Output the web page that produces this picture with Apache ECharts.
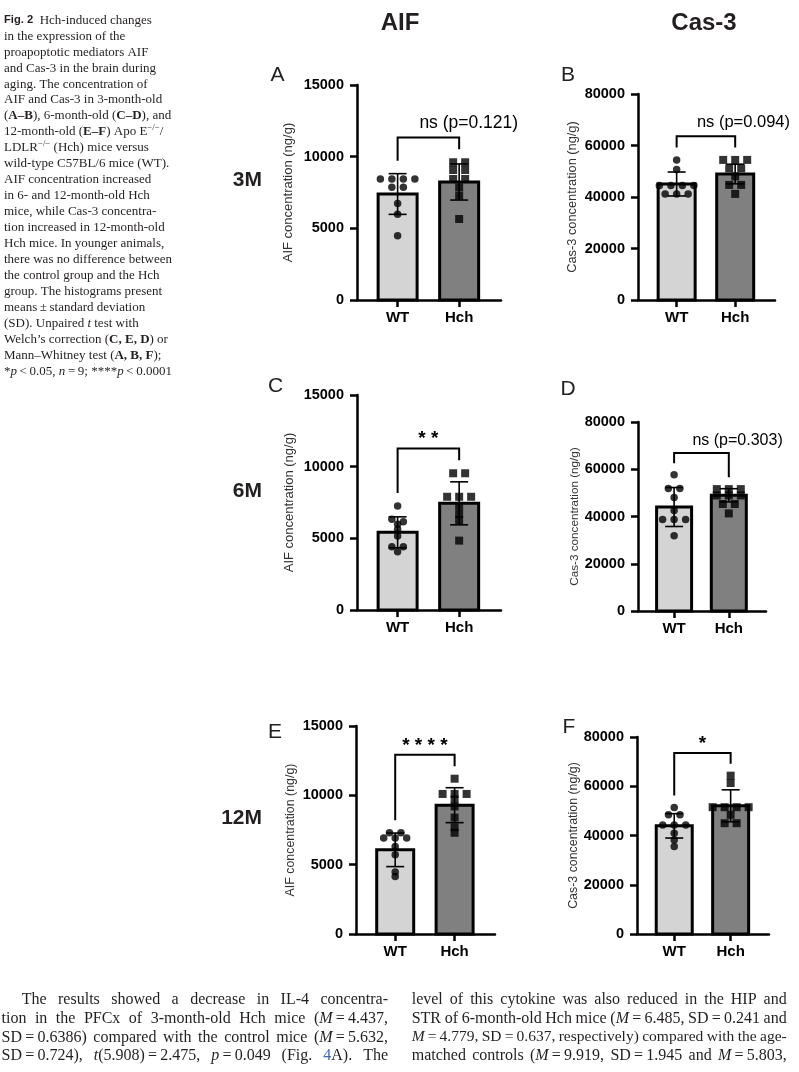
<!DOCTYPE html>
<html><head><meta charset="utf-8">
<script src="https://cdn.jsdelivr.net/npm/echarts@6/dist/echarts.min.js"></script>
<style>html,body{margin:0;padding:0;background:#fff}#c{width:799px;height:1072px}</style>
</head><body><div id="c"></div><script>
// ---------- data ----------
const categories = ['WT', 'Hch'];
const colTitles = ['AIF', 'Cas-3'];
const rowLabels = ['3M', '6M', '12M'];
const aifTicks = [0, 5000, 10000, 15000];
const cas3Ticks = [0, 20000, 40000, 60000, 80000];
const aifName = 'AIF concentration (ng/g)';
const cas3Name = 'Cas-3 concentration (ng/g)';
const sigLabels = ['ns (p=0.121)', 'ns (p=0.094)', '**', 'ns (p=0.303)', '****', '*'];

const aMeans = [7395, 8233], aSD = [1420, 1260];
const aWT  = [8440, 8440, 8440, 8440, 7860, 7860, 6740, 5980, 4490];
const aHch = [9610, 9610, 9070, 9070, 8440, 8440, 7860, 7280, 5650];
const bMeans = [45050, 48930], bSD = [4650, 3800];
const bWT  = [54400, 50700, 44500, 44500, 44500, 44500, 41200, 41200, 41200];
const bHch = [54400, 54400, 54400, 51100, 51100, 48000, 44700, 44700, 41200];
const cMeans = [5419, 7442], cSD = [1080, 1500];
const cWT  = [7260, 6330, 6160, 5980, 5630, 5160, 4420, 4420, 4070];
const cHch = [9540, 9540, 7900, 7900, 7900, 7260, 6700, 6280, 4840];
const dMeans = [44020, 48970], dSD = [8250, 2800];
const dWT  = [57700, 51800, 51800, 48000, 42500, 38700, 38700, 38700, 31800];
const dHch = [51600, 51600, 51600, 48900, 48900, 48900, 45300, 45300, 41300];
const eMeans = [6070, 9290], eSD = [1210, 1260];
const eWT  = [7300, 7300, 6930, 6930, 6930, 6310, 5710, 4470, 4150];
const eHch = [11200, 10100, 10100, 10100, 9700, 9200, 8400, 7700, 7300];
const fMeans = [43920, 52060], fSD = [4950, 6500];
const fWT  = [51400, 48400, 48400, 44300, 44300, 44300, 40900, 38200, 35500];
const fHch = [64300, 61300, 51500, 51500, 51500, 51500, 48400, 45000, 45000];

const captionLines = [
  '#Fig. 2#  Hch-induced changes',
  'in the expression of the',
  'proapoptotic mediators AIF',
  'and Cas-3 in the brain during',
  'aging. The concentration of',
  'AIF and Cas-3 in 3-month-old',
  '(§A–B§), 6-month-old (§C–D§), and',
  '12-month-old (§E–F§) Apo E^−/−^/',
  'LDLR^−/−^ (Hch) mice versus',
  'wild-type C57BL/6 mice (WT).',
  'AIF concentration increased',
  'in 6- and 12-month-old Hch',
  'mice, while Cas-3 concentra-',
  'tion increased in 12-month-old',
  'Hch mice. In younger animals,',
  'there was no difference between',
  'the control group and the Hch',
  'group. The histograms present',
  'means\u2009±\u2009standard deviation',
  '(SD). Unpaired _t_ test with',
  'Welch’s correction (§C, E, D§) or',
  'Mann–Whitney test (§A, B, F§);',
  '*_p_\u2009<\u20090.05, _n_\u2009=\u20099; ****_p_\u2009<\u20090.0001'
];
const bodyLeft = [
  'The results showed a decrease in IL-4 concentra-',
  'tion in the PFCx of 3-month-old Hch mice (_M_\u2009=\u20094.437,',
  'SD\u2009=\u20090.6386) compared with the control mice (_M_\u2009=\u20095.632,',
  'SD\u2009=\u20090.724), _t_(5.908)\u2009=\u20092.475, _p_\u2009=\u20090.049 (Fig. ~4~A). The'
];
const bodyRight = [
  'level of this cytokine was also reduced in the HIP and',
  'STR of 6-month-old Hch mice (_M_\u2009=\u20096.485, SD\u2009=\u20090.241 and',
  '_M_\u2009=\u20094.779, SD\u2009=\u20090.637, respectively) compared with the age-',
  'matched controls (_M_\u2009=\u20099.919, SD\u2009=\u20091.945 and _M_\u2009=\u20095.803,'
];

// ---------- layout / style ----------
const SANS = '"Liberation Sans", Arial, Helvetica, sans-serif';
const SERIF = '"Liberation Serif", "Times New Roman", serif';
const XMIN = -0.66, XMAX = 1.68;
const barFills = ['#d4d4d4', '#808080'];
const panels = [
  {means:aMeans, sd:aSD, wt:aWT, hch:aHch, ticks:aifTicks, name:aifName, sig:sigLabels[0], letter:'A',
   grid:{left:357, top:85, width:144, height:215}, barPx:39, nameGap:62, nameSize:13, lp:[277.5, 75], sigSize:17.5},
  {means:bMeans, sd:bSD, wt:bWT, hch:bHch, ticks:cas3Ticks, name:cas3Name, sig:sigLabels[1], letter:'B',
   grid:{left:638, top:94, width:137, height:206}, barPx:37, nameGap:59, nameSize:12.8, lp:[568, 75], sigSize:16.5},
  {means:cMeans, sd:cSD, wt:cWT, hch:cHch, ticks:aifTicks, name:aifName, sig:sigLabels[2], letter:'C',
   grid:{left:357, top:395, width:144, height:215}, barPx:39, nameGap:61, nameSize:13, lp:[275.5, 386], sigSize:17},
  {means:dMeans, sd:dSD, wt:dWT, hch:dHch, ticks:cas3Ticks, name:cas3Name, sig:sigLabels[3], letter:'D',
   grid:{left:638, top:422, width:128, height:189}, barPx:35, nameGap:50, nameSize:11.7, lp:[568, 389], sigSize:16},
  {means:eMeans, sd:eSD, wt:eWT, hch:eHch, ticks:aifTicks, name:aifName, sig:sigLabels[4], letter:'E',
   grid:{left:356, top:726, width:139, height:208}, barPx:37, nameGap:59, nameSize:12.4, lp:[275, 732], sigSize:17},
  {means:fMeans, sd:fSD, wt:fWT, hch:fHch, ticks:cas3Ticks, name:cas3Name, sig:sigLabels[5], letter:'F',
   grid:{left:637, top:737, width:132, height:197}, barPx:36, nameGap:54, nameSize:12.4, lp:[569, 727], sigSize:17}
];

function swarm(values, xc, pxPerVal, pxPerUnit, stepPx) {
  const s = values.slice().sort((a, b) => b - a);
  const out = []; let i = 0;
  while (i < s.length) {
    let j = i;
    while (j + 1 < s.length && (s[i] - s[j + 1]) * pxPerVal < 3.5) j++;
    const k = j - i + 1;
    for (let n = 0; n < k; n++) out.push([xc + (n - (k - 1) / 2) * stepPx / pxPerUnit, s[i + n]]);
    i = j + 1;
  }
  return out;
}

const grids = [], xAxes = [], yAxes = [], series = [];
panels.forEach((p, i) => {
  const max = p.ticks[p.ticks.length - 1];
  const interval = p.ticks[1] - p.ticks[0];
  grids.push(Object.assign({containLabel:false}, p.grid));
  const axLine = {show:true, onZero:false, lineStyle:{color:'#000', width:2.5}};
  xAxes.push({type:'value', gridIndex:i, min:XMIN, max:XMAX, axisLine:axLine,
    axisTick:{show:true, customValues:[0, 1], length:7, lineStyle:{color:'#000', width:2.5}},
    axisLabel:{show:true, customValues:[0, 1], formatter:v => categories[Math.round(v)] || '',
      fontFamily:SANS, fontWeight:'bold', fontSize:15, color:'#000', margin:10},
    splitLine:{show:false}});
  yAxes.push({type:'value', gridIndex:i, min:0, max:max, interval:interval, axisLine:axLine,
    axisTick:{show:true, length:7, lineStyle:{color:'#000', width:2.5}},
    axisLabel:{fontFamily:SANS, fontWeight:'bold', fontSize:14.5, color:'#000', margin:13,
      formatter:v => String(v)},
    splitLine:{show:false},
    name:p.name, nameLocation:'middle', nameRotate:90, nameGap:p.nameGap,
    nameTextStyle:{fontFamily:SANS, fontSize:p.nameSize, color:'#333'}});
  const pxPerVal = p.grid.height / max;
  const pxPerUnit = p.grid.width / (XMAX - XMIN);
  // bars
  series.push({type:'custom', xAxisIndex:i, yAxisIndex:i, z:1, silent:true,
    data:p.means.map((m, k) => [k, m]),
    renderItem:(params, api) => {
      const x = api.value(0), v = api.value(1);
      const t = api.coord([x, v]), b = api.coord([x, 0]);
      const h = p.barPx / 2;
      return {type:'rect', shape:{x:t[0] - h, y:t[1], width:2 * h, height:b[1] - t[1]},
        style:{fill:barFills[params.dataIndex], stroke:'#000', lineWidth:3}};
    }});
  // error bars (mean ± SD)
  series.push({type:'custom', xAxisIndex:i, yAxisIndex:i, z:2, silent:true,
    data:p.means.map((m, k) => [k, m, p.sd[k]]),
    renderItem:(params, api) => {
      const x = api.value(0), m = api.value(1), s = api.value(2);
      const t = api.coord([x, m + s]), b = api.coord([x, m - s]);
      const st = {stroke:'#000', lineWidth:1.6};
      return {type:'group', children:[
        {type:'line', shape:{x1:t[0], y1:t[1], x2:b[0], y2:b[1]}, style:st},
        {type:'line', shape:{x1:t[0] - 9, y1:t[1], x2:t[0] + 9, y2:t[1]}, style:st},
        {type:'line', shape:{x1:b[0] - 9, y1:b[1], x2:b[0] + 9, y2:b[1]}, style:st}]};
    }});
  // individual points
  series.push({type:'scatter', xAxisIndex:i, yAxisIndex:i, z:3, silent:true, symbol:'circle', symbolSize:7.5,
    itemStyle:{color:'#000'}, data:swarm(p.wt, 0, pxPerVal, pxPerUnit, 11.5)});
  series.push({type:'scatter', xAxisIndex:i, yAxisIndex:i, z:3, silent:true, symbol:'rect', symbolSize:8,
    itemStyle:{color:'#000'}, data:swarm(p.hch, 1, pxPerVal, pxPerUnit, 12)});
  // significance bracket
  const hi0 = Math.max(...p.wt, p.means[0] + p.sd[0]);
  const hi1 = Math.max(...p.hch, p.means[1] + p.sd[1]);
  const l = hi0 + 0.06 * max, r = hi1 + 0.06 * max, top = Math.max(l, r) + 0.055 * max;
  const isStars = p.sig.indexOf('ns') !== 0;
  series.push({type:'custom', xAxisIndex:i, yAxisIndex:i, z:4, silent:true,
    data:[[0, l, r, top]],
    renderItem:(params, api) => {
      const L = api.value(1), R = api.value(2), T = api.value(3);
      const p1 = api.coord([0, L]), p2 = api.coord([0, T]), p3 = api.coord([1, T]), p4 = api.coord([1, R]);
      const mid = (p2[0] + p3[0]) / 2;
      const ty = api.coord([0, T + (isStars ? 0.045 : 0.065) * max])[1];
      const txt = isStars
        ? {type:'text', x:mid, y:ty, style:{text:p.sig.split('').join(' '), font:'bold ' + (p.sigSize + 2) + 'px ' + SANS, fill:'#000',
            align:'center', verticalAlign:'middle', textAlign:'center', textVerticalAlign:'middle'}}
        : {type:'text', x:mid - 9, y:ty, style:{text:p.sig, font:p.sigSize + 'px ' + SANS, fill:'#000',
            align:'left', verticalAlign:'middle', textAlign:'left', textVerticalAlign:'middle'}};
      return {type:'group', children:[
        {type:'polyline', shape:{points:[p1, p2, p3, p4]}, style:{stroke:'#000', lineWidth:2, fill:null}},
        txt]};
    }});
});

// ---------- text blocks ----------
const meas = document.createElement('canvas').getContext('2d');
function parseMarkup(str) {
  const runs = []; const st = {b:false, i:false, sup:false, blue:false, sans:false}; let buf = '';
  const push = () => { if (buf) { runs.push(Object.assign({text:buf}, st)); buf = ''; } };
  for (const c of str) {
    if (c === '§') { push(); st.b = !st.b; }
    else if (c === '_') { push(); st.i = !st.i; }
    else if (c === '^') { push(); st.sup = !st.sup; }
    else if (c === '~') { push(); st.blue = !st.blue; }
    else if (c === '#') { push(); st.sans = !st.sans; }
    else buf += c;
  }
  push(); return runs;
}
function buildPieces(str, size) {
  const pieces = [];
  parseMarkup(str).forEach(r => {
    const sz = r.sup ? size * 0.68 : (r.sans ? size * 0.86 : size);
    const font = (r.i ? 'italic ' : '') + ((r.b || r.sans) ? 'bold ' : '') + sz.toFixed(2) + 'px ' + (r.sans ? SANS : SERIF);
    meas.font = font;
    r.text.split(/( )/).forEach(t => {
      if (t === '') return;
      pieces.push({t:t, font:font, w:meas.measureText(t).width, space:t === ' ', sup:r.sup, blue:r.blue});
    });
  });
  return pieces;
}
function textLine(str, x0, y, size, justifyTo, color) {
  let pieces = buildPieces(str, size);
  let extra = 0;
  if (justifyTo) {
    // shrink slightly if the natural line is too wide to keep normal word spaces
    for (let guard = 0; guard < 20; guard++) {
      const nat = pieces.reduce((a, q) => a + q.w, 0);
      const sp = pieces.filter(q => q.space);
      extra = sp.length ? (justifyTo - x0 - nat) / sp.length : 0;
      if (extra >= -0.3 * size * 0.25) break;
      size *= 0.985; pieces = buildPieces(str, size);
    }
  }
  let x = x0; const els = [];
  pieces.forEach(q => {
    if (q.space) { x += q.w + extra; return; }
    els.push({type:'text', x:x, y:y - (q.sup ? size * 0.36 : 0), silent:true,
      style:{text:q.t, font:q.font, fill:q.blue ? '#3a6db5' : color,
        align:'left', verticalAlign:'middle', textAlign:'left', textVerticalAlign:'middle'}});
    x += q.w;
  });
  return els;
}

const graphics = [];
const INK = '#231f20';
captionLines.forEach((ln, k) => graphics.push(...textLine(ln, 4, 20.3 + k * 15.95, 13, null, INK)));
bodyLeft.forEach((ln, k) => graphics.push(...textLine(ln, k === 0 ? 21.7 : 1.5, 1000 + k * 18.7, 16, 388, INK)));
bodyRight.forEach((ln, k) => graphics.push(...textLine(ln, 411.7, 1000 + k * 18.7, 16, 786.7, INK)));
[[400, 23], [704, 23]].forEach((pos, k) => graphics.push({type:'text', x:pos[0], y:pos[1], silent:true,
  style:{text:colTitles[k], font:'bold 24px ' + SANS, fill:INK, align:'center', verticalAlign:'middle',
    textAlign:'center', textVerticalAlign:'middle'}}));
[180, 491, 818].forEach((yy, k) => graphics.push({type:'text', x:262, y:yy, silent:true,
  style:{text:rowLabels[k], font:'bold 21px ' + SANS, fill:INK, align:'right', verticalAlign:'middle',
    textAlign:'right', textVerticalAlign:'middle'}}));
panels.forEach(p => graphics.push({type:'text', x:p.lp[0], y:p.lp[1], silent:true,
  style:{text:p.letter, font:'21px ' + SANS, fill:'#222', align:'center', verticalAlign:'middle',
    textAlign:'center', textVerticalAlign:'middle'}}));

const chart = echarts.init(document.getElementById('c'), null, {renderer:'canvas', width:799, height:1072});
chart.setOption({
  animation:false, backgroundColor:'#fff',
  grid:grids, xAxis:xAxes, yAxis:yAxes, series:series,
  graphic:{elements:graphics}
});
</script></body></html>
